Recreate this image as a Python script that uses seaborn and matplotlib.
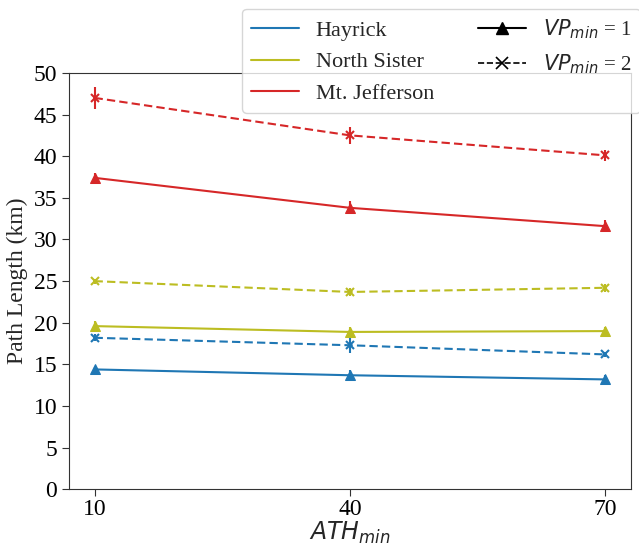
import matplotlib
matplotlib.use("Agg")
import matplotlib.pyplot as plt
from matplotlib.lines import Line2D
import seaborn as sns
import pandas as pd

ath = [10, 40, 70]
sites = ["Hayrick", "North Sister", "Mt. Jefferson"]
colors = {"Hayrick": "#1f77b4", "North Sister": "#bcbd22", "Mt. Jefferson": "#d62728"}

hay_vp1 = [14.4, 13.7, 13.2]
hay_vp2 = [18.2, 17.3, 16.2]
ns_vp1 = [19.6, 18.9, 19.0]
ns_vp2 = [25.0, 23.7, 24.2]
mj_vp1 = [37.4, 33.8, 31.6]
mj_vp2 = [47.0, 42.5, 40.1]

hay_vp1_err = [0.3, 0.6, 0.5]
hay_vp2_err = [0.4, 0.9, 0.3]
ns_vp1_err = [0.6, 0.6, 0.5]
ns_vp2_err = [0.3, 0.5, 0.5]
mj_vp1_err = [0.6, 0.8, 0.7]
mj_vp2_err = [1.3, 1.0, 0.7]

series = [
    ("Hayrick", 1, hay_vp1, hay_vp1_err),
    ("Hayrick", 2, hay_vp2, hay_vp2_err),
    ("North Sister", 1, ns_vp1, ns_vp1_err),
    ("North Sister", 2, ns_vp2, ns_vp2_err),
    ("Mt. Jefferson", 1, mj_vp1, mj_vp1_err),
    ("Mt. Jefferson", 2, mj_vp2, mj_vp2_err),
]

rows = []
for site, vp, vals, errs in series:
    for a, v, e in zip(ath, vals, errs):
        rows.append({"ATH": a, "Length": v, "err": e, "Site": site, "VP": vp})
df = pd.DataFrame(rows)

sns.set_style("ticks")
plt.rcParams["font.family"] = ["Liberation Serif", "DejaVu Serif"]
plt.rcParams["mathtext.fontset"] = "dejavusans"

fig = plt.figure(figsize=(6.39, 5.48), dpi=100)
ax = fig.add_axes([0.108, 0.107, 0.879, 0.760])

for vp, mk, ls in [(1, "^", "-"), (2, "x", "--")]:
    sub = df[df["VP"] == vp]
    sns.lineplot(data=sub, x="ATH", y="Length", hue="Site",
                 palette=colors, hue_order=sites, marker=mk, linestyle=ls,
                 markersize=6.5, linewidth=1.5, ax=ax, legend=False)

for line in ax.lines:
    line.set_markeredgecolor(line.get_color())
    if line.get_marker() == "x":
        line.set_markeredgewidth(1.5)
        line.set_markersize(6)
    if line.get_linestyle() == "--":
        line.set_dashes((4, 2))

for site, vp, vals, errs in series:
    ax.errorbar(ath, vals, yerr=errs, fmt="none", ecolor=colors[site],
                elinewidth=1.5, capsize=0)

ax.set_ylim(0, 50)
ax.set_xlim(7, 73)
ax.set_xticks(ath)
ax.set_yticks(range(0, 51, 5))
ax.tick_params(labelsize=17, colors="#333333", labelcolor="black", length=5)
ax.tick_params(axis="x", pad=2)
for s in ax.spines.values():
    s.set_color("#333333")
ax.set_xlabel("$ATH_{min}$", fontsize=17, labelpad=0)
ax.set_ylabel("Path Length (km)", fontsize=17, labelpad=4)

handles = [Line2D([], [], color=colors[s], lw=1.5) for s in sites]
labels = list(sites)
handles += [Line2D([], [], color="black", lw=1.5, marker="^", markersize=8),
            Line2D([], [], color="black", lw=1.2, ls="--", marker="x", markersize=8, markeredgewidth=1.2)]
labels += ["$VP_{min}$ = 1", "$VP_{min}$ = 2"]
leg = fig.legend(handles, labels, ncol=2, fontsize=16, loc="upper left",
                 bbox_to_anchor=(0.379, 0.984), borderaxespad=0,
                 framealpha=0.8, edgecolor="#cccccc", columnspacing=2.0,
                 handlelength=2.15, handletextpad=0.75)
for t in leg.get_texts()[3:]:
    t.set_fontsize(15)

fig.savefig("out.png", dpi=100)
